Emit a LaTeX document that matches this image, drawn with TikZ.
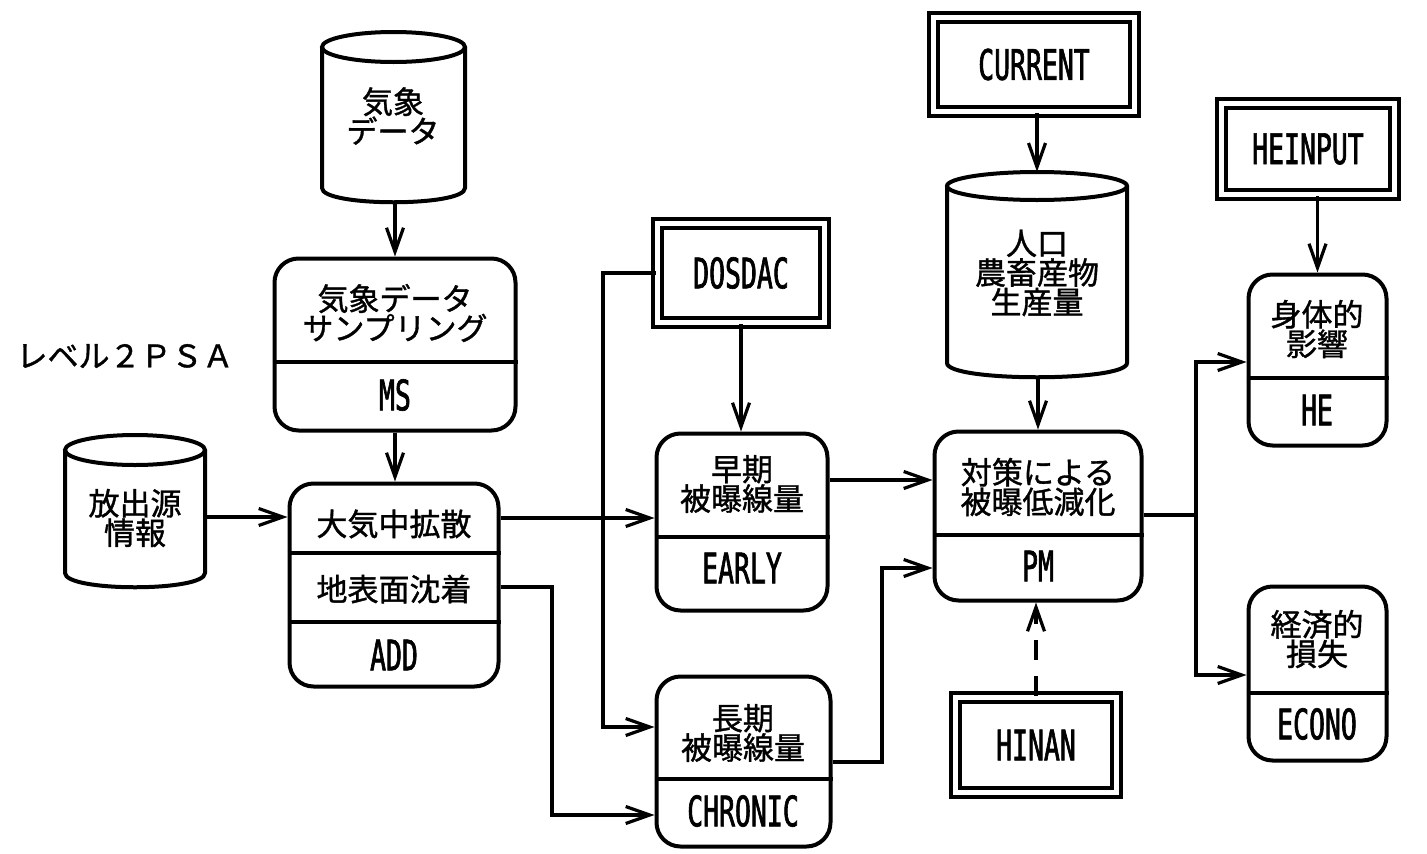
\documentclass[tikz,border=0pt]{standalone}
\usepackage{fontspec}
\newfontfamily\jp[FakeBold=1.2]{Noto Sans CJK JP}
\newfontfamily\lat[FakeStretch=0.63,FakeBold=1.5]{DejaVu Sans Mono}
\usetikzlibrary{arrows.meta}
\tikzset{
 bl/.style={line width=4pt},
 rbox/.style={draw, line width=4pt, rounded corners=24pt, inner sep=0pt},
 dbox/.style={draw, line width=3.6pt, double, double distance=5pt, inner sep=0pt},
 jt/.style={font=\jp\fontsize{31}{29.5}\selectfont, align=center, inner sep=0pt},
 lt/.style={font=\lat\fontsize{42}{42}\selectfont, inner sep=0pt},
 arr/.style={line width=3.2pt, -{Straight Barb[length=24pt,width=17pt]}},
 ln/.style={line width=3.2pt},
 invis/.style={inner sep=0pt}
}
\begin{document}
\begin{tikzpicture}[x=1pt,y=-1pt]
\useasboundingbox (0,0) rectangle (1427,854);
% cylinders
\draw[bl] (393.5,47) ellipse [x radius=71.5pt, y radius=15pt];
\draw[bl] (322,47) -- (322,188) .. controls (322,207) and (465,207) .. (465,188) -- (465,47);
\node[invis, minimum width=143pt, minimum height=170pt] (wx) at (393.5,117) {};
\node[jt] (wxt) at (393,116) {気象\\データ};

\draw[bl] (135,450) ellipse [x radius=70pt, y radius=15pt];
\draw[bl] (65,450) -- (65,573) .. controls (65,592) and (205,592) .. (205,573) -- (205,450);
\node[invis, minimum width=140pt, minimum height=152pt] (rel) at (135,511) {};
\node[jt] (relt) at (135,518) {放出源\\情報};

\draw[bl] (1037,186) ellipse [x radius=90pt, y radius=14pt];
\draw[bl] (947,186) -- (947,363) .. controls (947,382) and (1127,382) .. (1127,363) -- (1127,186);
\node[invis, minimum width=180pt, minimum height=205pt] (pop) at (1037,274.5) {};
\node[jt] (popt) at (1037,273) {人口\\農畜産物\\生産量};

% level label
\node[jt, font=\jp\fontsize{31}{31}\selectfont] (lvl) at (125,356) {レベル２ＰＳＡ};

% rounded process boxes
\node[rbox, minimum width=241pt, minimum height=172pt] (ms) at (395,344.5) {};
\draw[bl] (ms.west |- 0,362) -- (ms.east |- 0,362);
\node[jt] (mst) at (395,313) {気象データ\\サンプリング};
\node[lt] (msl) at (395,395) {MS};

\node[rbox, minimum width=209pt, minimum height=203pt] (add) at (394,585) {};
\draw[bl] (add.west |- 0,553) -- (add.east |- 0,553);
\draw[bl] (add.west |- 0,622) -- (add.east |- 0,622);
\node[jt] (addt1) at (394,524) {大気中拡散};
\node[jt] (addt2) at (394,589) {地表面沈着};
\node[lt] (addl) at (394,655) {ADD};

\node[rbox, minimum width=171pt, minimum height=177pt] (early) at (742,522) {};
\draw[bl] (early.west |- 0,537) -- (early.east |- 0,537);
\node[jt] (earlyt) at (742,484) {早期\\被曝線量};
\node[lt] (earlyl) at (742,568) {EARLY};

\node[rbox, minimum width=174pt, minimum height=170pt] (chr) at (743.5,761.5) {};
\draw[bl] (chr.west |- 0,779) -- (chr.east |- 0,779);
\node[jt] (chrt) at (743,733) {長期\\被曝線量};
\node[lt] (chrl) at (743,811) {CHRONIC};

\node[rbox, minimum width=207pt, minimum height=169pt] (pm) at (1038,516) {};
\draw[bl] (pm.west |- 0,535) -- (pm.east |- 0,535);
\node[jt] (pmt) at (1038,487) {対策による\\被曝低減化};
\node[lt] (pml) at (1038,566) {PM};

\node[rbox, minimum width=138pt, minimum height=171pt] (he) at (1317.5,360) {};
\draw[bl] (he.west |- 0,378) -- (he.east |- 0,378);
\node[jt] (het) at (1317,329) {身体的\\影響};
\node[lt] (hel) at (1317,410) {HE};

\node[rbox, minimum width=138pt, minimum height=174pt] (eco) at (1317.5,673.5) {};
\draw[bl] (eco.west |- 0,693) -- (eco.east |- 0,693);
\node[jt] (ecot) at (1317,639) {経済的\\損失};
\node[lt] (ecol) at (1317,724) {ECONO};

% double-border input boxes
\node[dbox, minimum width=167pt, minimum height=99pt, font=\lat\fontsize{42}{42}\selectfont] (dos) at (741,273) {DOSDAC};
\node[dbox, minimum width=201pt, minimum height=94pt, font=\lat\fontsize{42}{42}\selectfont] (cur) at (1034,64.5) {CURRENT};
\node[dbox, minimum width=161pt, minimum height=95pt, font=\lat\fontsize{42}{42}\selectfont] (hin) at (1036,745) {HINAN};
\node[dbox, minimum width=173pt, minimum height=91pt, font=\lat\fontsize{42}{42}\selectfont] (hei) at (1308,149) {HEINPUT};

% connectors
\draw[arr] (wx.south) -- (ms.north |- wx.south) -- (ms.north);
\draw[arr] (ms.south) -- (ms.south |- add.north);
\draw[arr] (rel.east |- 0,517) -- (add.west |- 0,517);
\draw[arr] (add.east |- 0,518) -- (early.west |- 0,518);
\draw[arr] (add.east |- 0,587) -- (552,587) -- (552,815) -- (chr.west |- 0,815);
\draw[arr] (dos.west) -- (603,273) -- (603,727) -- (chr.west |- 0,727);
\draw[arr] (dos.south) -- (dos.south |- early.north);
\draw[arr] (early.east |- 0,480) -- (pm.west |- 0,480);
\draw[arr] (chr.east |- 0,762) -- (882,762) -- (882,568) -- (pm.west |- 0,568);
\draw[arr] (pop.north |- cur.south) -- (pop.north);
\draw[arr] (pm.north |- pop.south) -- (pm.north);
\draw[arr, dash pattern=on 20pt off 16pt] (hin.north) -- (hin.north |- pm.south);
\draw[ln] (pm.east |- 0,515) -- (1196,515);
\draw[arr] (1196,515) -- (1196,362) -- (he.west |- 0,362);
\draw[arr] (1196,515) -- (1196,675) -- (eco.west |- 0,675);
\draw[arr] (he.north |- hei.south) -- (he.north);
\end{tikzpicture}
\end{document}
